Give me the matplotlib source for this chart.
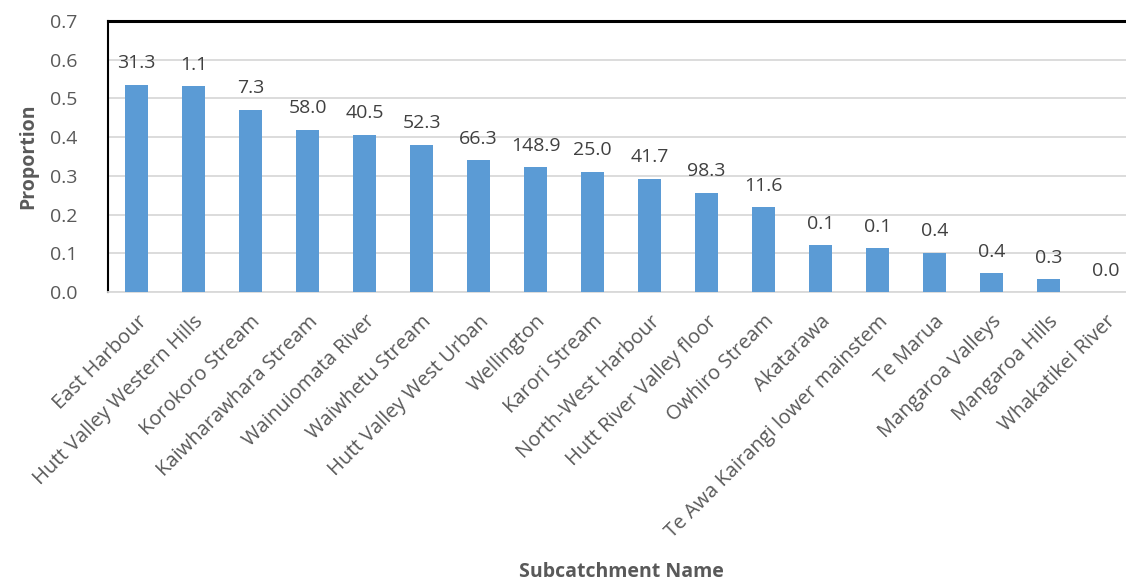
import matplotlib
matplotlib.use("Agg")
import matplotlib.pyplot as plt

# subcatchments in the order they are drawn
names = ["East Harbour", "Hutt Valley Western Hills", "Korokoro Stream",
         "Kaiwharawhara Stream", "Wainuiomata River", "Waiwhetu Stream",
         "Hutt Valley West Urban", "Wellington", "Karori Stream",
         "North-West Harbour", "Hutt River Valley floor", "Owhiro Stream",
         "Akatarawa", "Te Awa Kairangi lower mainstem", "Te Marua",
         "Mangaroa Valleys", "Mangaroa Hills", "Whakatikei River"]
proportion = [0.535, 0.532, 0.471, 0.419, 0.406, 0.380, 0.340, 0.322, 0.311,
              0.292, 0.257, 0.219, 0.121, 0.113, 0.102, 0.048, 0.033, 0.0]
bar_labels = ["31.3", "1.1", "7.3", "58.0", "40.5", "52.3", "66.3", "148.9", "25.0",
              "41.7", "98.3", "11.6", "0.1", "0.1", "0.4", "0.4", "0.3", "0.0"]
y_ticks = [0.0, 0.1, 0.2, 0.3, 0.4, 0.5, 0.6, 0.7]

plt.rcParams['font.family'] = ['Open Sans', 'DejaVu Sans']

fig = plt.figure(figsize=(11.26, 5.86), dpi=100)
ax = fig.add_axes([108 / 1126, 1 - 292 / 586, 1026 / 1126, 271 / 586])

x = list(range(len(names)))
bars = ax.bar(x, proportion, width=0.41, color="#5B9BD5", zorder=3)

for bar, lab in zip(bars, bar_labels):
    ax.annotate(lab, (bar.get_x() + bar.get_width() / 2, bar.get_height()),
                xytext=(0, 9), textcoords="offset points", ha="center", va="bottom",
                fontsize=14, color="#404040", zorder=4)

ax.set_xlim(-0.5, len(names) - 0.5)
ax.set_ylim(0, 0.7)
ax.set_yticks(y_ticks)
ax.set_yticklabels([f"{t:.1f}" for t in y_ticks])
ax.set_xticks(x)
ax.set_xticklabels(names, rotation=45, ha="right", rotation_mode="anchor")

ax.tick_params(axis="both", length=0, labelsize=14, labelcolor="#595959")
ax.tick_params(axis="x", pad=14, labelsize=14.5)
ax.tick_params(axis="y", pad=22)
ax.grid(axis="y", color="#D9D9D9", linewidth=1.3, zorder=0)

ax.spines["right"].set_visible(False)
ax.spines["top"].set_linewidth(2.2)
ax.spines["top"].set_color("black")
ax.spines["left"].set_linewidth(1.5)
ax.spines["left"].set_color("black")
ax.spines["bottom"].set_color("#D9D9D9")
ax.spines["bottom"].set_linewidth(1.3)

ax.set_ylabel("Proportion", fontsize=14, fontweight="bold", color="#595959")
ax.set_xlabel("Subcatchment Name", fontsize=14, fontweight="bold", color="#595959")
ax.yaxis.set_label_coords(-0.078, 0.5)
ax.xaxis.set_label_coords(0.5, -1.033)
ax.xaxis.label.set_va("center")
ax.yaxis.label.set_va("center")

fig.savefig("out.png", dpi=100)
